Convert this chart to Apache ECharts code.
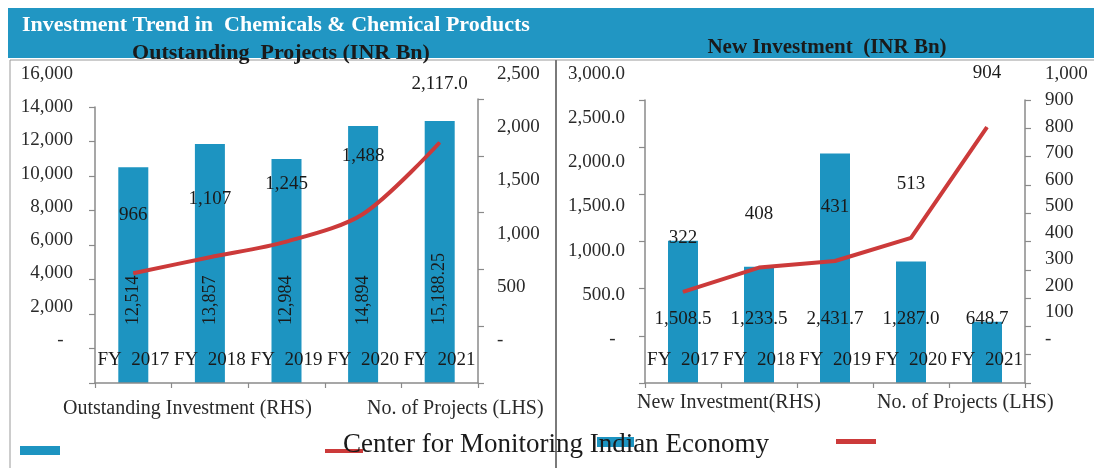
<!DOCTYPE html>
<html>
<head>
<meta charset="utf-8">
<script src="https://cdn.jsdelivr.net/npm/echarts@6/dist/echarts.min.js"></script>
<style>
  html, body { margin: 0; padding: 0; background: #ffffff; }
  #chart { width: 1094px; height: 468px; }
</style>
</head>
<body>
<div id="chart"></div>
<script>
// ---- Data ----
const categories = ['FY  2017', 'FY  2018', 'FY  2019', 'FY  2020', 'FY  2021'];
const outstandingInvestment = [12514, 13857, 12984, 14894, 15188.25];
const outstandingProjects = [966, 1107, 1245, 1488, 2117];
const outstandingProjectLabels = ['966', '1,107', '1,245', '1,488', '2,117.0'];
const newInvestment = [1508.5, 1233.5, 2431.7, 1287.0, 648.7];
const newProjects = [322, 408, 431, 513, 904];
// axis scales: [min, max, interval]
const outLeftScale = [0, 16000, 2000];
const outRightScale = [0, 2500, 500];
const newLeftScale = [0, 3000, 500];
const newRightScale = [0, 1000, 100];

const titleText = 'Investment Trend in  Chemicals & Chemical Products';
const leftSubtitle = 'Outstanding  Projects (INR Bn)';
const rightSubtitle = 'New Investment  (INR Bn)';
const legendLeft = ['Outstanding Investment (RHS)', 'No. of Projects (LHS)'];
const legendRight = ['New Investment(RHS)', 'No. of Projects (LHS)'];
const sourceText = 'Center for Monitoring Indian Economy';

// ---- Styles ----
const SERIF = '"Liberation Serif", "Times New Roman", serif';
const BLUE = '#1d94c1';
const BAND = '#2196c3';
const RED = '#cc3a3a';
const AXIS = '#8a8a8a';
const TXT = '#1a1a1a';

const fmtInt = v => v === 0 ? '-  ' : v.toLocaleString('en-US');
const fmtIntR = v => v === 0 ? '-' : v.toLocaleString('en-US');
const fmt1 = v => v === 0 ? '-  ' : v.toLocaleString('en-US', {minimumFractionDigits: 1, maximumFractionDigits: 1});

function ghostY(gridIndex, scale, position, margin, formatter) {
  return {
    type: 'value', gridIndex, position,
    min: scale[0], max: scale[1], interval: scale[2],
    axisLine: {show: false}, axisTick: {show: false}, splitLine: {show: false},
    axisLabel: {show: true, margin, formatter, color: '#2a2a2a', fontFamily: SERIF, fontSize: 19}
  };
}
function realY(gridIndex, scale, position) {
  return {
    type: 'value', gridIndex, position,
    min: scale[0], max: scale[1], interval: scale[2],
    axisLine: {show: true, lineStyle: {color: AXIS, width: 1.5}},
    axisTick: {show: true, length: 6, lineStyle: {color: AXIS, width: 1.2}},
    splitLine: {show: false},
    axisLabel: {show: false}
  };
}
function hiddenX(gridIndex) {
  return {type: 'category', gridIndex, data: categories, show: false};
}
function realX(gridIndex) {
  return {
    type: 'category', gridIndex, data: categories, z: 5,
    axisLine: {show: true, lineStyle: {color: AXIS, width: 1.5}},
    axisTick: {show: true, length: 5, lineStyle: {color: AXIS, width: 1.2}},
    axisLabel: {inside: true, margin: 13, interval: 0, hideOverlap: false,
      color: TXT, fontFamily: SERIF, fontSize: 19}
  };
}

const chart = echarts.init(document.getElementById('chart'), null, {renderer: 'canvas'});

const option = {
  animation: false,
  backgroundColor: '#ffffff',
  grid: [
    {left: 95, right: 616, top: 74, bottom: 128},
    {left: 95, right: 616, top: 107, bottom: 85},
    {left: 95, right: 616, top: 99, bottom: 85},
    {left: 645, right: 69, top: 74, bottom: 129},
    {left: 645, right: 69, top: 100, bottom: 85}
  ],
  xAxis: [hiddenX(0), realX(1), hiddenX(2), hiddenX(3), realX(4)],
  yAxis: [
    ghostY(0, outLeftScale, 'left', 22, fmtInt),
    ghostY(0, outRightScale, 'right', 19, fmtIntR),
    realY(1, outLeftScale, 'left'),
    realY(2, outRightScale, 'right'),
    ghostY(3, newLeftScale, 'left', 20, fmt1),
    ghostY(3, newRightScale, 'right', 20, fmtIntR),
    realY(4, newLeftScale, 'left'),
    realY(4, newRightScale, 'right')
  ],
  series: [
    {
      name: legendLeft[0], type: 'bar', xAxisIndex: 1, yAxisIndex: 2,
      data: outstandingInvestment, barWidth: 30,
      itemStyle: {color: BLUE},
      label: {show: true, position: 'insideBottom', distance: 58, rotate: 90,
        align: 'left', verticalAlign: 'middle',
        formatter: p => p.value.toLocaleString('en-US', {maximumFractionDigits: 2}),
        color: TXT, fontFamily: SERIF, fontSize: 18}
    },
    {
      name: legendLeft[1], type: 'line', xAxisIndex: 2, yAxisIndex: 3,
      data: outstandingProjects, smooth: 0.3,
      symbol: 'circle', symbolSize: 1, showSymbol: true,
      itemStyle: {color: RED},
      lineStyle: {color: RED, width: 4},
      label: {show: true, position: 'top', distance: 48,
        formatter: p => outstandingProjectLabels[p.dataIndex],
        color: TXT, fontFamily: SERIF, fontSize: 19}
    },
    {
      name: legendRight[0], type: 'bar', xAxisIndex: 4, yAxisIndex: 6,
      data: newInvestment, barWidth: 30,
      itemStyle: {color: BLUE},
      label: {show: true, position: 'insideBottom', distance: 54,
        formatter: p => p.value.toLocaleString('en-US', {minimumFractionDigits: 1, maximumFractionDigits: 1}),
        color: TXT, fontFamily: SERIF, fontSize: 19}
    },
    {
      name: legendRight[1], type: 'line', xAxisIndex: 4, yAxisIndex: 7,
      data: newProjects, smooth: false,
      symbol: 'circle', symbolSize: 1, showSymbol: true,
      itemStyle: {color: RED},
      lineStyle: {color: RED, width: 4},
      label: {show: true, position: 'top', distance: 44,
        formatter: p => p.value.toLocaleString('en-US'),
        color: TXT, fontFamily: SERIF, fontSize: 19}
    }
  ],
  graphic: [
    // title band
    {type: 'rect', z: 0, shape: {x: 8, y: 8, width: 1086, height: 50}, style: {fill: BAND}},
    // panel frames
    {type: 'line', z: 0, shape: {x1: 10, y1: 60, x2: 1094, y2: 60}, style: {stroke: '#9a9a9a', lineWidth: 1}},
    {type: 'line', z: 0, shape: {x1: 10, y1: 60, x2: 10, y2: 468}, style: {stroke: '#9a9a9a', lineWidth: 1}},
    {type: 'line', z: 0, shape: {x1: 556, y1: 60, x2: 556, y2: 468}, style: {stroke: '#7a7a7a', lineWidth: 2}},
    // title texts
    {type: 'text', z: 5, x: 22, y: 25, style: {text: titleText, fill: '#ffffff',
      font: 'bold 22px ' + SERIF, align: 'left', verticalAlign: 'middle'}},
    {type: 'text', z: 5, x: 281, y: 53, style: {text: leftSubtitle, fill: TXT,
      font: 'bold 22px ' + SERIF, align: 'center', verticalAlign: 'middle'}},
    {type: 'text', z: 5, x: 827, y: 48, style: {text: rightSubtitle, fill: TXT,
      font: 'bold 21px ' + SERIF, align: 'center', verticalAlign: 'middle'}},
    // legend texts
    {type: 'text', z: 5, x: 63, y: 409, style: {text: legendLeft[0], fill: '#2a2a2a',
      font: '20px ' + SERIF, align: 'left', verticalAlign: 'middle'}},
    {type: 'text', z: 5, x: 367, y: 409, style: {text: legendLeft[1], fill: '#2a2a2a',
      font: '20px ' + SERIF, align: 'left', verticalAlign: 'middle'}},
    {type: 'text', z: 5, x: 637, y: 403, style: {text: legendRight[0], fill: '#2a2a2a',
      font: '20px ' + SERIF, align: 'left', verticalAlign: 'middle'}},
    {type: 'text', z: 5, x: 877, y: 403, style: {text: legendRight[1], fill: '#2a2a2a',
      font: '20px ' + SERIF, align: 'left', verticalAlign: 'middle'}},
    // legend swatches
    {type: 'rect', z: 4, shape: {x: 20, y: 446, width: 40, height: 9}, style: {fill: BLUE}},
    {type: 'rect', z: 4, shape: {x: 325, y: 449, width: 38, height: 4}, style: {fill: RED}},
    {type: 'rect', z: 4, shape: {x: 597, y: 437, width: 37, height: 10}, style: {fill: BLUE}},
    {type: 'rect', z: 4, shape: {x: 836, y: 439, width: 40, height: 5}, style: {fill: RED}},
    // source text
    {type: 'text', z: 5, x: 343, y: 445, style: {text: sourceText, fill: '#1a1a1a',
      font: '27px ' + SERIF, align: 'left', verticalAlign: 'middle'}}
  ]
};

chart.setOption(option);
</script>
</body>
</html>
